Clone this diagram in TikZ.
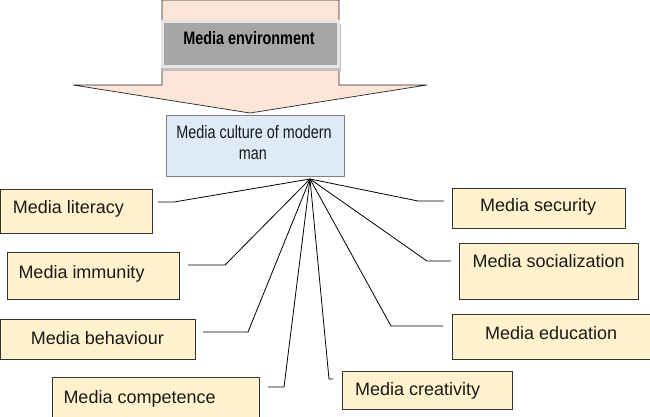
\documentclass[tikz,border=0pt]{standalone}
\usepackage{fontspec}
\setmainfont{Liberation Sans}
\newfontfamily\narrowfont[FakeStretch=0.8]{Liberation Sans}
\begin{document}
\begin{tikzpicture}[x=1pt,y=-1pt,
  ybox/.style={draw=black!80, fill=yboxfill, line width=0.8pt, inner sep=0pt, outer sep=0pt, anchor=north west},
  lbl/.style={inner sep=0pt, anchor=base west, font=\fontsize{18}{21}\selectfont, text=black!90},
  conn/.style={draw=black, line width=0.8pt}]
\definecolor{yboxfill}{HTML}{FFF2CC}
\definecolor{arrowfill}{HTML}{FBE5D6}
\definecolor{culturefill}{HTML}{DEEBF7}
\definecolor{envfill}{HTML}{A6A6A6}
\useasboundingbox (0,0) rectangle (650,416);
% big arrow
\path[fill=arrowfill, draw=black!85, line width=0.7pt]
  (162,0) -- (339,0) -- (339,85) -- (427,85) -- (250,113) -- (73,85) -- (162,85) -- cycle;
% media environment
\fill[black!25] (162,24) rectangle (341,71);
\node[draw=black!10, fill=envfill, line width=3pt, inner sep=0pt, outer sep=0pt,
      minimum width=176pt, minimum height=45pt, anchor=north west] (envbox) at (162.5,21.5) {};
\node[inner sep=0pt, anchor=base, font=\narrowfont\bfseries\fontsize{18}{21}\selectfont] (envtext) at (249,44.7) {Media environment};
% media culture
\node[draw=black!50, fill=culturefill, line width=0.8pt, inner sep=0pt, outer sep=0pt,
      minimum width=178pt, minimum height=61pt, anchor=north west] (culture) at (166,115) {};
\node[inner sep=0pt, anchor=base, font=\narrowfont\fontsize{18}{21}\selectfont, text=black!90] (cult1) at (254,138.7) {Media culture of modern};
\node[inner sep=0pt, anchor=base, font=\narrowfont\fontsize{18}{21}\selectfont, text=black!90] (cult2) at (253,159.7) {man};
\coordinate (hub) at (310,179);
% boxes
\node[ybox, minimum width=152pt, minimum height=44pt] (lit) at (0,189) {};
\node[ybox, minimum width=172pt, minimum height=47pt] (imm) at (7,252) {};
\node[ybox, minimum width=195pt, minimum height=40pt] (beh) at (0,319) {};
\node[ybox, minimum width=207pt, minimum height=45pt] (com) at (52,377) {};
\node[ybox, minimum width=173pt, minimum height=40pt] (sec) at (452,188) {};
\node[ybox, minimum width=179pt, minimum height=56pt] (soc) at (459,243) {};
\node[ybox, minimum width=198pt, minimum height=45pt] (edu) at (452,314) {};
\node[ybox, minimum width=170pt, minimum height=38pt] (cre) at (342,371) {};
% labels
\node[lbl] (litt) at (12.7,213) {Media literacy};
\node[lbl] (immt) at (18.3,278) {Media immunity};
\node[lbl] (beht) at (30.7,344) {Media behaviour};
\node[lbl] (comt) at (63.3,403) {Media competence};
\node[lbl] (sect) at (480,211.5) {Media security};
\node[lbl] (soct) at (472.3,267) {Media socialization};
\node[lbl] (edut) at (485,339) {Media education};
\node[lbl] (cret) at (355,395.7) {Media creativity};
% connector coordinates
\coordinate (litE) at (174,202); \coordinate (litF) at (158,202);
\coordinate (immE) at (225,265); \coordinate (immF) at (188,265);
\coordinate (behE) at (248,332); \coordinate (behF) at (203,332);
\coordinate (comE) at (284,387); \coordinate (comF) at (268,387);
\coordinate (creE) at (329,379); \coordinate (creF) at (333,379);
\coordinate (secE) at (418,201); \coordinate (secF) at (444,201);
\coordinate (socE) at (427,261); \coordinate (socF) at (451,261);
\coordinate (eduE) at (391,326); \coordinate (eduF) at (443,326);
\draw[conn] (hub) -- (litE) -- (litF);
\draw[conn] (hub) -- (immE) -- (immF);
\draw[conn] (hub) -- (behE) -- (behF);
\draw[conn] (hub) -- (comE) -- (comF);
\draw[conn] (hub) -- (creE) -- (creF);
\draw[conn] (hub) -- (secE) -- (secF);
\draw[conn] (hub) -- (socE) -- (socF);
\draw[conn] (hub) -- (eduE) -- (eduF);
\end{tikzpicture}
\end{document}
